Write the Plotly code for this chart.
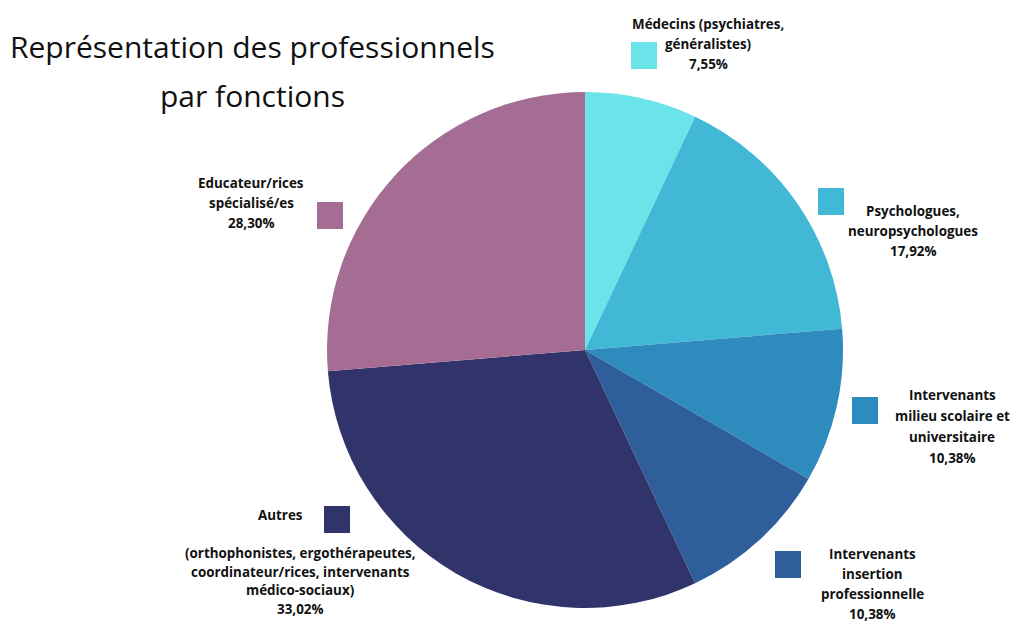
import plotly.graph_objects as go

# ---- data ----
categories = [
    "Médecins (psychiatres, généralistes)",
    "Psychologues, neuropsychologues",
    "Intervenants milieu scolaire et universitaire",
    "Intervenants insertion professionnelle",
    "Autres",
    "Educateur/rices spécialisé/es",
]
values = [7.55, 17.92, 10.38, 10.38, 33.02, 28.30]
colors = ["#6be4e9", "#42b8d7", "#2e8bbd", "#2e5f9b", "#31336b", "#a56d94"]

label_lines = [
    ["Médecins (psychiatres,", "généralistes)", "7,55%"],
    ["Psychologues,", "neuropsychologues", "17,92%"],
    ["Intervenants", "milieu scolaire et", "universitaire", "10,38%"],
    ["Intervenants", "insertion", "professionnelle", "10,38%"],
    ["(orthophonistes, ergothérapeutes,", "coordinateur/rices, intervenants", "médico-sociaux)", "33,02%"],
    ["Educateur/rices", "spécialisé/es", "28,30%"],
]
title_lines = ["Représentation des professionnels", "par fonctions"]

W, H = 1020, 624


def px(x):
    return x / W


def py(y):
    return 1 - y / H


cx, cy, r = 585, 350, 258

fig = go.Figure(
    go.Pie(
        labels=categories,
        values=values,
        sort=False,
        direction="clockwise",
        rotation=0,
        marker=dict(colors=colors, line=dict(width=0)),
        textinfo="none",
        hoverinfo="label+percent",
        domain=dict(x=[px(cx - r), px(cx + r)], y=[py(cy + r), py(cy - r)]),
        showlegend=False,
    )
)

# legend squares (x0, y0) in pixels
squares = [(631, 42), (818, 188), (852, 397), (775, 551), (324, 506), (317, 202)]
shapes = []
for (sx, sy), col in zip(squares, colors):
    shapes.append(dict(type="rect", xref="paper", yref="paper",
                       x0=px(sx), x1=px(sx + 26), y0=py(sy + 27), y1=py(sy),
                       fillcolor=col, line=dict(width=0)))

# text blocks: center x, first-line y, line spacing
blocks = [(708, 24, 20), (913, 211, 20), (952, 395, 21), (872, 554, 20), (300, 553, 18.5), (251, 183, 20)]
annotations = []
for (tx, ty, dy), lines in zip(blocks, label_lines):
    for i, line in enumerate(lines):
        annotations.append(dict(x=px(tx), y=py(ty + i * dy), xref="paper", yref="paper",
                                text="<b>" + line + "</b>", showarrow=False,
                                xanchor="center", yanchor="middle",
                                font=dict(family="Open Sans", size=13.4, color="#111111")))
annotations.append(dict(x=px(280), y=py(515), xref="paper", yref="paper",
                        text="<b>Autres</b>", showarrow=False, xanchor="center", yanchor="middle",
                        font=dict(family="Open Sans", size=13.4, color="#111111")))

for i, line in enumerate(title_lines):
    annotations.append(dict(x=px(252), y=py(47 + i * 48), xref="paper", yref="paper",
                            text=line, showarrow=False, xanchor="center", yanchor="middle",
                            font=dict(family="Open Sans", size=30, color="#111111")))

fig.update_layout(
    width=W, height=H,
    margin=dict(l=0, r=0, t=0, b=0),
    paper_bgcolor="white", plot_bgcolor="white",
    shapes=shapes, annotations=annotations,
)

fig.write_html("out.html", config={"displayModeBar": False},
               post_script="document.body.style.margin='0';")
